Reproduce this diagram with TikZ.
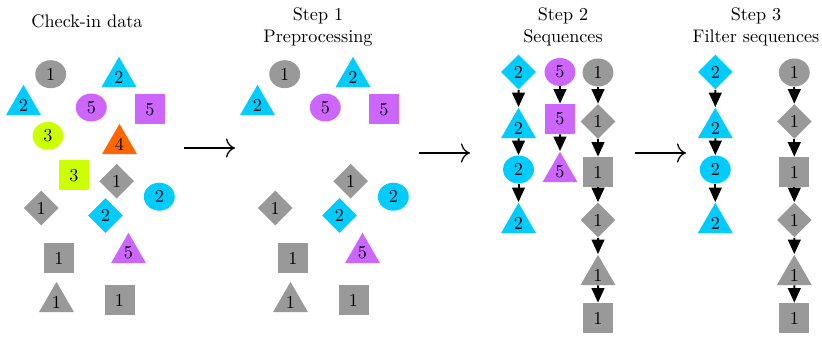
\documentclass[tikz,border=0pt]{standalone}
\usetikzlibrary{shapes.geometric,arrows.meta}
\definecolor{cgray}{HTML}{999999}
\definecolor{ccyan}{HTML}{00CCFF}
\definecolor{cpurple}{HTML}{CC66FF}
\definecolor{cyellow}{HTML}{CCFF00}
\definecolor{corange}{HTML}{FF6600}
\begin{document}
\begin{tikzpicture}[x=0.55pt,y=-0.55pt,
  el/.style={ellipse, minimum width=17pt, minimum height=15.4pt, inner sep=0pt},
  sq/.style={rectangle, minimum size=16.5pt, inner sep=0pt},
  dia/.style={diamond, minimum width=19.2pt, minimum height=19.2pt, inner sep=0pt},
  tri/.style={regular polygon, regular polygon sides=3, minimum size=22.2pt, inner sep=0pt},
  fgray/.style={fill=cgray},
  fcyan/.style={fill=ccyan},
  fpurple/.style={fill=cpurple},
  fyellow/.style={fill=cyellow},
  forange/.style={fill=corange},
  seqarrow/.style={-{Triangle[length=8pt,width=7pt]}, line width=1.1pt},
  bigarrow/.style={-{Computer Modern Rightarrow[length=5pt,width=10.5pt]}, line width=0.7pt},
  title/.style={anchor=base, inner sep=0pt}
]
\useasboundingbox (0,0) rectangle (822,336);

% titles
\node[title] (t0) at (87,28) {Check-in data};
\node[title] (t1a) at (318,20.5) {Step 1};
\node[title] (t1b) at (318,43) {Preprocessing};
\node[title] (t2a) at (563,20.5) {Step 2};
\node[title] (t2b) at (563,43) {Sequences};
\node[title] (t3a) at (756,20.5) {Step 3};
\node[title] (t3b) at (756,43) {Filter sequences};

% panel 0: check-in data
\node[el,fgray] (p0a) at (50.7,74.2) {1};
\node[tri,fcyan] (p0b) at (119,77) {2};
\node[tri,fcyan] (p0c) at (23.5,105) {2};
\node[el,fpurple] (p0d) at (91.3,107.5) {5};
\node[sq,fpurple] (p0e) at (150,109.3) {5};
\node[el,fyellow] (p0f) at (48,135.8) {3};
\node[tri,forange] (p0g) at (119.5,144) {4};
\node[sq,fyellow] (p0h) at (74,175.3) {3};
\node[dia,fgray] (p0i) at (116.7,181.2) {1};
\node[el,fcyan] (p0j) at (159.3,196.7) {2};
\node[dia,fgray] (p0k) at (41.2,208) {1};
\node[dia,fcyan] (p0l) at (105.5,215.5) {2};
\node[tri,fpurple] (p0m) at (128.5,253) {5};
\node[sq,fgray] (p0n) at (58.8,258.3) {1};
\node[tri,fgray] (p0o) at (56.5,302) {1};
\node[sq,fgray] (p0p) at (119.5,300) {1};

% panel 1: preprocessing
\begin{scope}[shift={(234,0)}]
\node[el,fgray] (p1a) at (50.7,74.2) {1};
\node[tri,fcyan] (p1b) at (119,77) {2};
\node[tri,fcyan] (p1c) at (23.5,105) {2};
\node[el,fpurple] (p1d) at (91.3,107.5) {5};
\node[sq,fpurple] (p1e) at (150,109.3) {5};
\node[dia,fgray] (p1i) at (116.7,181.2) {1};
\node[el,fcyan] (p1j) at (159.3,196.7) {2};
\node[dia,fgray] (p1k) at (41.2,208) {1};
\node[dia,fcyan] (p1l) at (105.5,215.5) {2};
\node[tri,fpurple] (p1m) at (128.5,253) {5};
\node[sq,fgray] (p1n) at (58.8,258.3) {1};
\node[tri,fgray] (p1o) at (56.5,302) {1};
\node[sq,fgray] (p1p) at (119.5,300) {1};
\end{scope}

% panel 2: sequences
\node[dia,fcyan] (s2a1) at (518.5,72) {2};
\node[tri,fcyan] (s2a2) at (518.5,128) {2};
\node[el,fcyan] (s2a3) at (518.5,169.5) {2};
\node[tri,fcyan] (s2a4) at (518.5,223) {2};
\draw[seqarrow] (s2a1) -- (s2a2);
\draw[seqarrow] (s2a2) -- (s2a3);
\draw[seqarrow] (s2a3) -- (s2a4);

\node[el,fpurple] (s2b1) at (560,72) {5};
\node[sq,fpurple] (s2b2) at (560,119) {5};
\node[tri,fpurple] (s2b3) at (560,172) {5};
\draw[seqarrow] (s2b1) -- (s2b2);
\draw[seqarrow] (s2b2) -- (s2b3);

\node[el,fgray] (s2c1) at (598,72.5) {1};
\node[dia,fgray] (s2c2) at (598,121.5) {1};
\node[sq,fgray] (s2c3) at (598,172) {1};
\node[dia,fgray] (s2c4) at (598,220) {1};
\node[tri,fgray] (s2c5) at (598,275) {1};
\node[sq,fgray] (s2c6) at (598,318) {1};
\draw[seqarrow] (s2c1) -- (s2c2);
\draw[seqarrow] (s2c2) -- (s2c3);
\draw[seqarrow] (s2c3) -- (s2c4);
\draw[seqarrow] (s2c4) -- (s2c5);
\draw[seqarrow] (s2c5) -- (s2c6);

% panel 3: filtered sequences
\node[dia,fcyan] (s3a1) at (715.3,72) {2};
\node[tri,fcyan] (s3a2) at (715.3,128) {2};
\node[el,fcyan] (s3a3) at (715.3,169.5) {2};
\node[tri,fcyan] (s3a4) at (715.3,223) {2};
\draw[seqarrow] (s3a1) -- (s3a2);
\draw[seqarrow] (s3a2) -- (s3a3);
\draw[seqarrow] (s3a3) -- (s3a4);

\node[el,fgray] (s3c1) at (794.3,72.5) {1};
\node[dia,fgray] (s3c2) at (794.3,121.5) {1};
\node[sq,fgray] (s3c3) at (794.3,172) {1};
\node[dia,fgray] (s3c4) at (794.3,220) {1};
\node[tri,fgray] (s3c5) at (794.3,275) {1};
\node[sq,fgray] (s3c6) at (794.3,318) {1};
\draw[seqarrow] (s3c1) -- (s3c2);
\draw[seqarrow] (s3c2) -- (s3c3);
\draw[seqarrow] (s3c3) -- (s3c4);
\draw[seqarrow] (s3c4) -- (s3c5);
\draw[seqarrow] (s3c5) -- (s3c6);

% step arrows
\coordinate (a1s) at (184,148);
\coordinate (a1e) at (235,148);
\coordinate (a2s) at (419,153);
\coordinate (a2e) at (470,153);
\coordinate (a3s) at (635,153);
\coordinate (a3e) at (686,153);
\draw[bigarrow] (a1s) -- (a1e);
\draw[bigarrow] (a2s) -- (a2e);
\draw[bigarrow] (a3s) -- (a3e);
\end{tikzpicture}
\end{document}
